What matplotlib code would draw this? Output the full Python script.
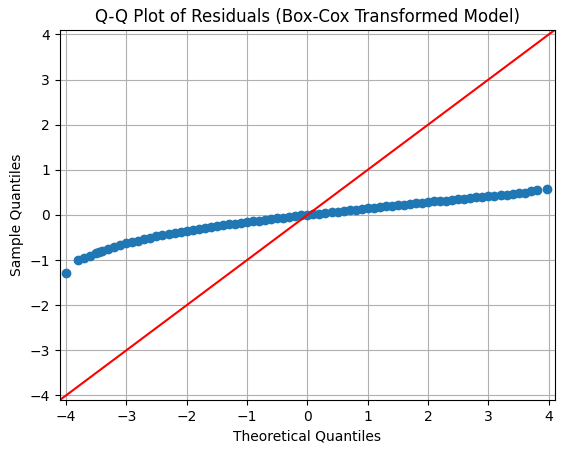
import matplotlib.pyplot as plt
import numpy as np

# points (theoretical, sample)
theo = [-4.0, -3.8, -3.7, -3.6, -3.5, -3.45, -3.4, -3.3, -3.2, -3.1,
        -3.0, -2.9, -2.8, -2.7, -2.6, -2.5, -2.4, -2.3, -2.2, -2.1,
        -2.0, -1.9, -1.8, -1.7, -1.6, -1.5, -1.4, -1.3, -1.2, -1.1,
        -1.0, -0.9, -0.8, -0.7, -0.6, -0.5, -0.4, -0.3, -0.2, -0.1,
        0.0, 0.1, 0.2, 0.3, 0.4, 0.5, 0.6, 0.7, 0.8, 0.9,
        1.0, 1.1, 1.2, 1.3, 1.4, 1.5, 1.6, 1.7, 1.8, 1.9,
        2.0, 2.1, 2.2, 2.3, 2.4, 2.5, 2.6, 2.7, 2.8, 2.9,
        3.0, 3.1, 3.2, 3.3, 3.4, 3.5, 3.6, 3.7, 3.8, 3.97]
sample = [-1.28, -1.00, -0.95, -0.90, -0.84, -0.82, -0.80, -0.75, -0.71, -0.67,
          -0.63, -0.60, -0.57, -0.53, -0.50, -0.47, -0.44, -0.42, -0.40, -0.37,
          -0.35, -0.33, -0.31, -0.29, -0.27, -0.25, -0.23, -0.21, -0.19, -0.18,
          -0.16, -0.14, -0.13, -0.11, -0.09, -0.07, -0.06, -0.04, -0.03, -0.01,
          0.00, 0.01, 0.03, 0.04, 0.06, 0.07, 0.09, 0.10, 0.12, 0.13,
          0.15, 0.16, 0.17, 0.19, 0.20, 0.22, 0.23, 0.24, 0.26, 0.27,
          0.29, 0.30, 0.31, 0.32, 0.34, 0.35, 0.36, 0.37, 0.39, 0.40,
          0.41, 0.42, 0.44, 0.45, 0.46, 0.48, 0.49, 0.52, 0.55, 0.57]

fig, ax = plt.subplots(figsize=(5.65, 4.53), dpi=100)
fig.subplots_adjust(left=0.106, right=0.982, top=0.934, bottom=0.117)
ax.plot(theo, sample, 'o', color='#1f77b4', markersize=6)
ax.plot([-4.1, 4.1], [-4.1, 4.1], color='red')
ax.set_xlim(-4.1, 4.1)
ax.set_ylim(-4.1, 4.1)
ax.set_xticks(np.arange(-4, 5))
ax.set_yticks(np.arange(-4, 5))
ax.grid(True)
ax.set_xlabel('Theoretical Quantiles')
ax.set_ylabel('Sample Quantiles')
ax.set_title('Q-Q Plot of Residuals (Box-Cox Transformed Model)')
fig.savefig('out.png')
